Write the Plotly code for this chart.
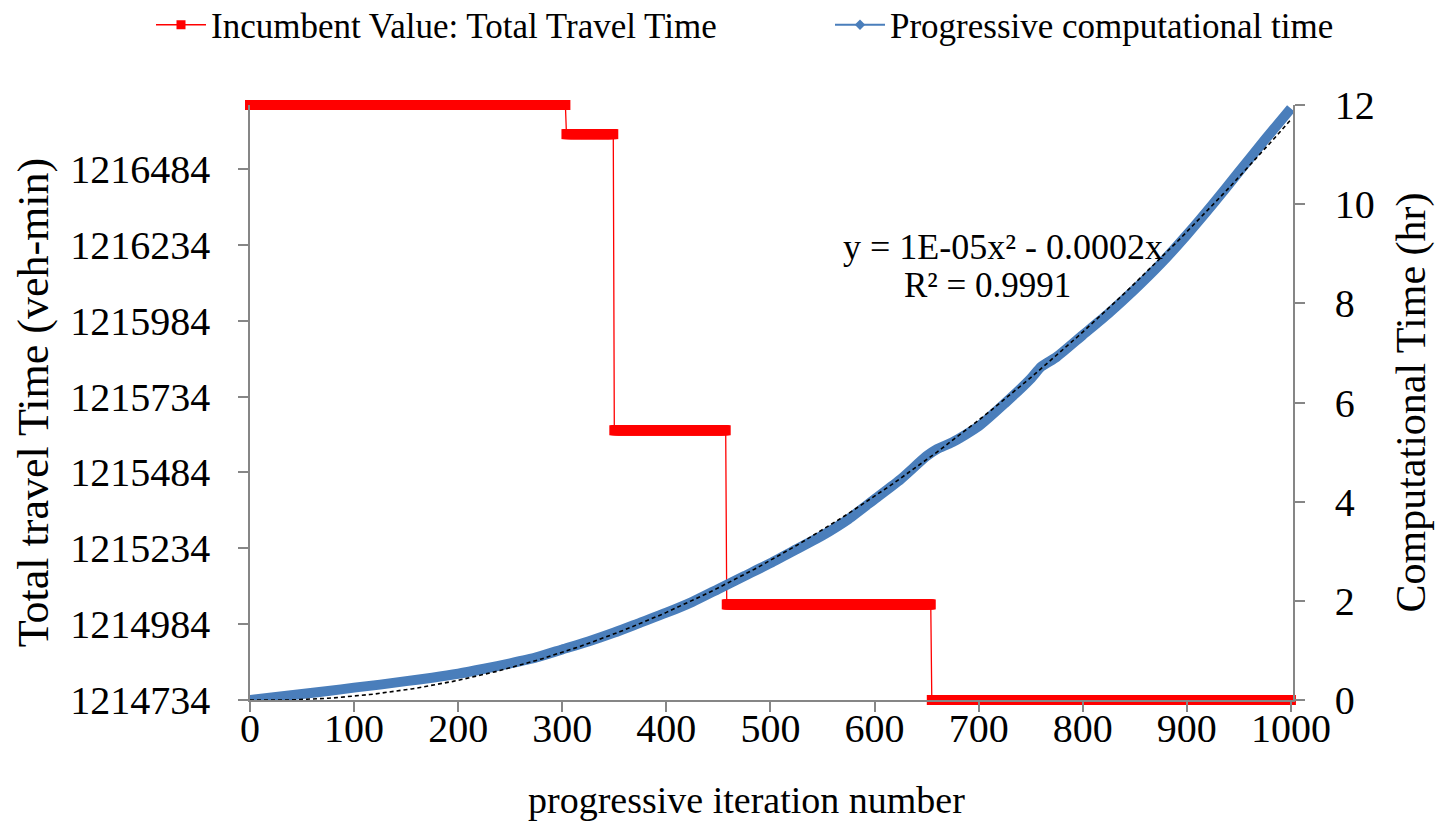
import numpy as np
import plotly.graph_objects as go

# ---------------- data ----------------
# Incumbent value (total travel time, veh-min): iterations where a new incumbent was found
improve_iter = [0, 304, 350, 458, 655]
incumbent_val = [1216695, 1216599, 1215623, 1215049, 1214734]
last_iter = 1000

# Progressive computational time (hr)
comp_iter = [0, 25, 50, 75, 100, 125, 150, 175, 200, 225, 250, 275, 300, 325, 350,
             375, 400, 425, 450, 475, 500, 525, 550, 575, 600, 625, 650, 660, 675,
             700, 725, 750, 760, 775, 800, 825, 850, 875, 900, 925, 950, 975, 1000]
comp_time = [0.00, 0.06, 0.12, 0.18, 0.25, 0.31, 0.38, 0.45, 0.53, 0.63, 0.74, 0.86,
             1.02, 1.18, 1.36, 1.56, 1.76, 1.98, 2.24, 2.50, 2.76, 3.04, 3.32, 3.65,
             4.05, 4.45, 4.92, 5.06, 5.20, 5.52, 5.98, 6.48, 6.72, 6.92, 7.36, 7.80,
             8.28, 8.80, 9.38, 10.00, 10.65, 11.30, 11.93]

left_ticks = [1214734, 1214984, 1215234, 1215484, 1215734, 1215984, 1216234, 1216484]
x_ticks = [0, 100, 200, 300, 400, 500, 600, 700, 800, 900, 1000]
right_ticks = [0, 2, 4, 6, 8, 10, 12]

legend_names = ["Incumbent Value: Total Travel Time", "Progressive computational time"]
equation_lines = ["y = 1E-05x² - 0.0002x", "R² = 0.9991"]
x_title = "progressive iteration number"
y_title = "Total travel Time (veh-min)"
y2_title = "Computational Time (hr)"

# ---------------- derived ----------------
iters = np.arange(0, last_iter + 1)
idx = np.searchsorted(improve_iter, iters, side="right") - 1
incumbent_series = np.array(incumbent_val)[idx]

cx = np.array(comp_iter, dtype=float)
cy = np.array(comp_time, dtype=float)
A = np.vstack([cx ** 2, cx]).T
coef, *_ = np.linalg.lstsq(A, cy, rcond=None)
tx = np.linspace(0, 1000, 201)
ty = coef[0] * tx ** 2 + coef[1] * tx

RED = "#FF0000"
BLUE = "#4A7EBB"
AXC = "#868686"
FONT = "Liberation Serif"

W, H = 1448, 834
OFF = 8  # page body offset
PL, PR, PT, PB = 250, 1293, 105, 700  # plot area in page pixels

fig = go.Figure()

# red incumbent series
fig.add_trace(go.Scatter(
    x=iters, y=incumbent_series, mode="lines+markers",
    line=dict(color=RED, width=1.3),
    marker=dict(symbol="square", size=10, color=RED, line=dict(width=0)),
    showlegend=False, cliponaxis=False, yaxis="y"))

# blue computational time
fig.add_trace(go.Scatter(
    x=comp_iter, y=comp_time, mode="lines",
    line=dict(color=BLUE, width=10, shape="spline", smoothing=0.6),
    showlegend=False, cliponaxis=False, yaxis="y2"))

# trendline
fig.add_trace(go.Scatter(
    x=tx, y=ty, mode="lines",
    line=dict(color="black", width=1.6, dash="4px,3px"),
    showlegend=False, yaxis="y2"))

# legend-only entries (one legend each so they never wrap)
fig.add_trace(go.Scatter(
    x=[None], y=[None], mode="lines+markers", name=legend_names[0],
    line=dict(color=RED, width=1.5),
    marker=dict(symbol="square", size=9, color=RED), yaxis="y", legend="legend"))
fig.add_trace(go.Scatter(
    x=[None], y=[None], mode="lines+markers", name=legend_names[1],
    line=dict(color=BLUE, width=2),
    marker=dict(symbol="diamond", size=8, color=BLUE), yaxis="y2", legend="legend2"))

leg_common = dict(orientation="h", xref="container", yref="container",
                  xanchor="left", yanchor="middle", y=1 - (25 - OFF) / H,
                  font=dict(size=35), itemwidth=50, bgcolor="rgba(0,0,0,0)")

fig.update_layout(
    width=W, height=H,
    margin=dict(l=PL - OFF, r=W + OFF - PR, t=PT - OFF, b=H + OFF - PB, autoexpand=False),
    paper_bgcolor="white", plot_bgcolor="white",
    font=dict(family=FONT, size=40, color="black"),
    legend=dict(x=(151 - OFF) / W, **leg_common),
    legend2=dict(x=(830 - OFF) / W, **leg_common),
    xaxis=dict(range=[0, 1002], tickvals=x_ticks, showgrid=False, zeroline=False,
               showline=True, linecolor=AXC, linewidth=1.5,
               ticks="outside", ticklen=10, tickcolor=AXC, tickwidth=1.5,
               tickfont=dict(size=40), ticklabelstandoff=-18),
    yaxis=dict(range=[1214734, 1216695], tickvals=left_ticks, showgrid=False, zeroline=False,
               showline=True, linecolor=AXC, linewidth=1.5,
               ticks="outside", ticklen=10, tickcolor=AXC, tickwidth=1.5,
               tickfont=dict(size=40), tickformat="d", ticklabelstandoff=20,
               title=dict(text=y_title, font=dict(size=44), standoff=8)),
    yaxis2=dict(range=[0, 12], tickvals=right_ticks, overlaying="y", side="right",
                showgrid=False, zeroline=False,
                showline=True, linecolor=AXC, linewidth=1.5,
                ticks="outside", ticklen=10, tickcolor=AXC, tickwidth=1.5,
                tickfont=dict(size=40), ticklabelstandoff=22,
                title=dict(text=y2_title, font=dict(size=42), standoff=22)),
    annotations=[
        dict(text=x_title, xref="paper", yref="paper",
             x=(746 - PL) / (PR - PL), y=-(800 - PB) / (PB - PT),
             xanchor="center", yanchor="middle", showarrow=False,
             font=dict(size=38, family=FONT)),
        dict(text=equation_lines[0], xref="paper", yref="paper",
             x=(1003 - PL) / (PR - PL), y=(PB - 247) / (PB - PT),
             xanchor="center", yanchor="middle", showarrow=False,
             font=dict(size=36, family=FONT)),
        dict(text=equation_lines[1], xref="paper", yref="paper",
             x=(987 - PL) / (PR - PL), y=(PB - 285) / (PB - PT),
             xanchor="center", yanchor="middle", showarrow=False,
             font=dict(size=35, family=FONT)),
    ],
)

fig.write_html("out.html")
